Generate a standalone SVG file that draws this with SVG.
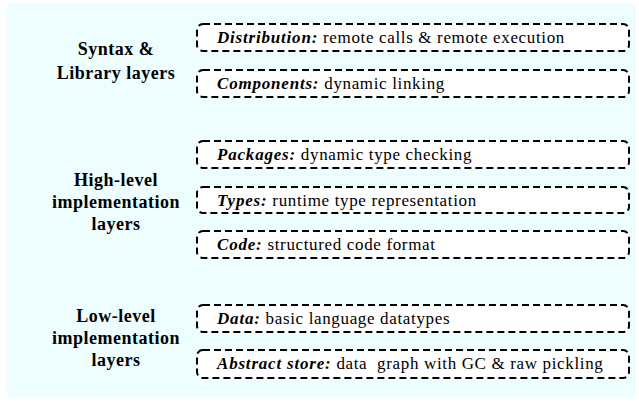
<svg xmlns="http://www.w3.org/2000/svg" width="639" height="405" viewBox="0 0 639 405">
<style>
.bg{fill:#eefeff}
.box{fill:#ffffff;stroke:#000;stroke-width:2;stroke-dasharray:7 4}
.grp{font-family:"Liberation Serif","Times New Roman",serif;font-size:18px;font-weight:bold;letter-spacing:0.5px;text-anchor:middle;fill:#000}
.t{font-family:"Liberation Serif","Times New Roman",serif;font-size:17px;letter-spacing:0.65px;fill:#000}
.k{font-weight:bold;font-style:italic;letter-spacing:0.8px}
</style>
<rect class="bg" x="7" y="3" width="629" height="394"/>
<g id="group-syntax">
<text class="grp" x="116" y="55">Syntax &amp;</text>
<text class="grp" x="116" y="79">Library layers</text>
</g>
<g id="group-high">
<text class="grp" x="116" y="186">High-level</text>
<text class="grp" x="116" y="208">implementation</text>
<text class="grp" x="116" y="230">layers</text>
</g>
<g id="group-low">
<text class="grp" x="116" y="322">Low-level</text>
<text class="grp" x="116" y="344">implementation</text>
<text class="grp" x="116" y="366">layers</text>
</g>
<g id="distribution">
<rect class="box" x="197" y="24" width="432" height="27" rx="6"/>
<text class="t" x="217" y="43"><tspan class="k">Distribution:</tspan> remote calls &amp; remote execution</text>
</g>
<g id="components">
<rect class="box" x="197" y="70" width="432" height="27" rx="6"/>
<text class="t" x="217" y="89"><tspan class="k">Components:</tspan> dynamic linking</text>
</g>
<g id="packages">
<rect class="box" x="197" y="141" width="432" height="27" rx="6"/>
<text class="t" x="217" y="160"><tspan class="k">Packages:</tspan> dynamic type checking</text>
</g>
<g id="types">
<rect class="box" x="197" y="187" width="432" height="26" rx="6"/>
<text class="t" x="217" y="206"><tspan class="k">Types:</tspan> runtime type representation</text>
</g>
<g id="code">
<rect class="box" x="197" y="231" width="432" height="27" rx="6"/>
<text class="t" x="217" y="250"><tspan class="k">Code:</tspan> structured code format</text>
</g>
<g id="data">
<rect class="box" x="197" y="305" width="432" height="27" rx="6"/>
<text class="t" x="217" y="324"><tspan class="k">Data:</tspan> basic language datatypes</text>
</g>
<g id="abstract-store">
<rect class="box" x="197" y="350" width="432" height="28" rx="6"/>
<text class="t" x="217" y="369"><tspan class="k">Abstract store:</tspan> data&#160; graph with GC &amp; raw pickling</text>
</g>
<g id="connectors"/>
</svg>
